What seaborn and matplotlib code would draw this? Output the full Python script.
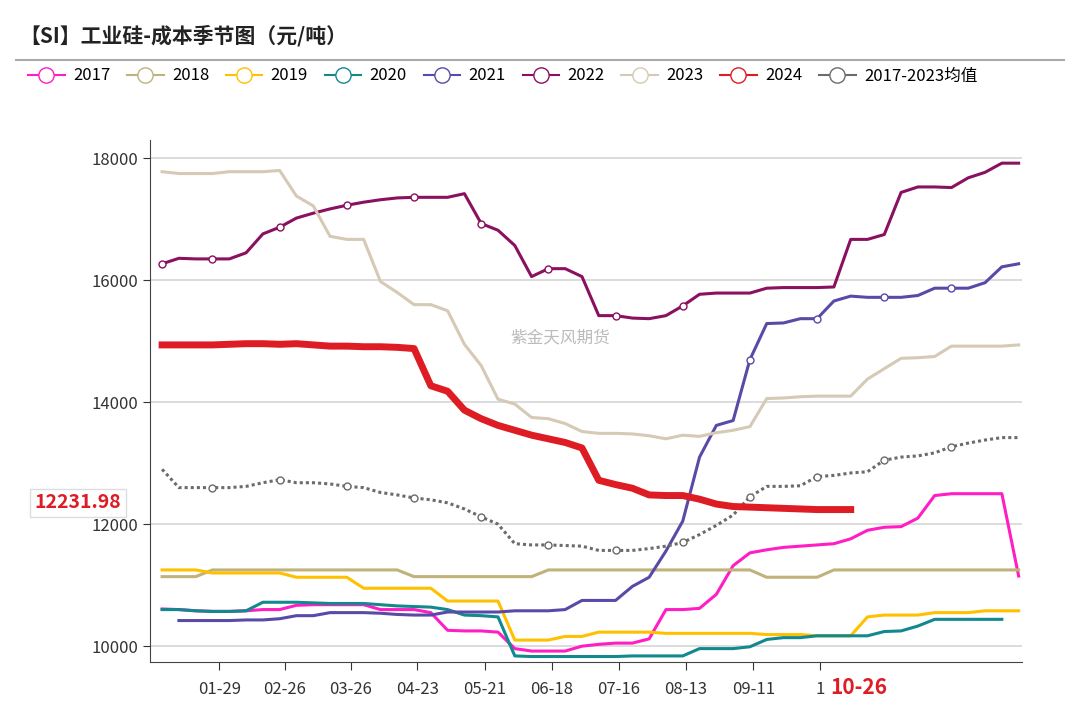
import numpy as np
import pandas as pd
import matplotlib
matplotlib.use("Agg")
import matplotlib.pyplot as plt
from matplotlib.lines import Line2D
import seaborn as sns

nan = np.nan
weeks = list(range(52))
s2017 = [10610,10600,10580,10570,10570,10580,10600,10600,10670,10680,10680,10680,10680,10600,10600,10600,10550,10260,10250,10250,10230,9960,9920,9920,9920,10000,10030,10050,10050,10120,10600,10600,10620,10850,11320,11530,11580,11620,11640,11660,11680,11760,11900,11950,11960,12100,12470,12500,12500,12500,12500,11150]
s2018 = [11140]*3 + [11250]*12 + [11140]*8 + [11250]*13 + [11130]*4 + [11250]*12
s2019 = [11250]*3 + [11200]*5 + [11130]*4 + [10950]*5 + [10740]*4 + [10100]*3 + [10160]*2 + [10230]*4 + [10210]*6 + [10190]*3 + [10170]*3 + [10480] + [10510]*3 + [10550]*3 + [10580]*3
s2020 = [10600,10600,10580,10570,10570,10580,10720,10720,10720,10710,10700,10700,10700,10680,10660,10650,10640,10600,10510,10500,10480,9840,9830,9830,9830,9830,9830,9830,9840,9840,9840,9840,9960,9960,9960,9990,10110,10140,10140,10170,10170,10170,10170,10240,10250,10330,10440,10440,10440,10440,10440,nan]
s2021 = [nan,10420,10420,10420,10420,10430,10430,10450,10500,10500,10550,10550,10550,10540,10520,10510,10510,10560,10560,10560,10560,10580,10580,10580,10600,10750,10750,10750,10980,11130,11560,12050,13100,13620,13700,14700,15290,15300,15370,15370,15660,15740,15720,15720,15720,15750,15870,15870,15870,15960,16220,16270]
s2022 = [16270,16360,16350,16350,16350,16450,16760,16870,17020,17100,17170,17230,17280,17320,17350,17360,17360,17360,17420,16930,16820,16570,16060,16190,16190,16060,15420,15420,15380,15370,15420,15580,15770,15790,15790,15790,15870,15880,15880,15880,15890,16670,16670,16750,17440,17530,17530,17520,17680,17770,17920,17920]
s2023 = [17780,17750,17750,17750,17780,17780,17780,17800,17380,17220,16720,16670,16670,15980,15800,15600,15600,15500,14950,14600,14050,13970,13750,13730,13650,13520,13490,13490,13480,13450,13400,13460,13440,13500,13540,13600,14060,14070,14090,14100,14100,14100,14380,14550,14720,14730,14750,14920,14920,14920,14920,14940]
s2024 = [14940,14940,14940,14940,14950,14960,14960,14950,14960,14940,14920,14920,14910,14910,14900,14880,14270,14180,13870,13730,13620,13540,13460,13400,13340,13250,12720,12650,12590,12480,12470,12470,12410,12330,12290,12280,12270,12260,12250,12240,12240,12240] + [nan]*10
savg = [12900,12600,12600,12600,12600,12620,12680,12730,12680,12680,12660,12620,12600,12520,12480,12430,12400,12350,12250,12120,12000,11680,11660,11660,11650,11640,11570,11570,11570,11600,11640,11700,11830,11980,12150,12450,12620,12620,12630,12780,12800,12840,12860,13050,13100,13120,13170,13270,13330,13380,13420,13420]
tick_pos = [3.4,7.3,11.25,15.2,19.2,23.2,27.2,31.2,35.2,39.2]
tick_labels = ["01-29","02-26","03-26","04-23","05-21","06-18","07-16","08-13","09-11","1"]
last_value = "12231.98"

series = [("2017",s2017,"#ff1dc4"),("2018",s2018,"#bfb27a"),("2019",s2019,"#ffc000"),
          ("2020",s2020,"#12888f"),("2021",s2021,"#5a4aa8"),("2022",s2022,"#8a1060"),
          ("2023",s2023,"#d6c9b5"),("2024",s2024,"#dd1c24"),("2017-2023均值",savg,"#6b6b6b")]

plt.rcParams["font.family"] = ["Noto Sans CJK SC", "DejaVu Sans"]
fig = plt.figure(figsize=(10.8, 7.01), dpi=100)
ax = fig.add_axes([0.1389, 0.0556, 0.8074, 0.7447])
mk = list(range(3, 48, 4))
for name, vals, col in series:
    df = pd.DataFrame({"w": weeks, "v": vals})
    if name == "2024":
        sns.lineplot(data=df, x="w", y="v", color=col, lw=5, ax=ax, zorder=5)
    elif name.startswith("2017-"):
        sns.lineplot(data=df, x="w", y="v", color=col, lw=2.2, ls=(0, (1, 1)), ax=ax, zorder=4)
        ax.plot(mk, [vals[i] for i in mk], ls="none", marker="o", ms=5, mfc="white", mec=col, zorder=6)
    else:
        sns.lineplot(data=df, x="w", y="v", color=col, lw=2.2, ax=ax)
        if name == "2022":
            idx = [0] + [i for i in mk if i <= 31]
            ax.plot(idx, [vals[i] for i in idx], ls="none", marker="o", ms=5, mfc="white", mec=col, zorder=6)
        if name == "2021":
            idx = [i for i in mk if i >= 35]
            ax.plot(idx, [vals[i] for i in idx], ls="none", marker="o", ms=5, mfc="white", mec=col, zorder=6)

ax.set_xlim(-0.72, 51.2)
ax.set_ylim(9740, 18300)
ax.set_yticks([10000, 12000, 14000, 16000, 18000])
ax.set_yticklabels(["10000","12000","14000","16000","18000"], fontsize=12, color="#333333")
ax.set_xticks(tick_pos)
ax.set_xticklabels(tick_labels, fontsize=12, color="#333333")
ax.tick_params(axis="x", length=6, pad=8, color="#333333")
ax.tick_params(axis="y", length=5, color="#333333")
ax.set_xlabel(""); ax.set_ylabel("")
ax.grid(axis="y", color="#d9d9d9", lw=1.3)
ax.set_axisbelow(True)
for s in ["top", "right"]:
    ax.spines[s].set_visible(False)
for s in ["left", "bottom"]:
    ax.spines[s].set_color("#444444")
ax.text(41.5, 9740, "10-26", color="#dd1c24", fontsize=15, fontweight="bold",
        ha="center", va="top", transform=ax.transData).set_y(9740 - 250)
ax.text(0.47, 0.62, "紫金天风期货", transform=ax.transAxes, fontsize=12, color="#bbbbbb", ha="center", va="center")

fig.text(0.128, 503/701, " ", fontsize=1)
fig.text(0.072, 1 - 503/701, last_value, color="#dd1c24", fontsize=14, fontweight="bold", ha="center", va="center",
         bbox=dict(boxstyle="square,pad=0.25", fc="white", ec="#dddddd"))
fig.text(0.018, 1 - 36/701, "【SI】工业硅-成本季节图（元/吨）", fontsize=15, fontweight="bold", color="#222222", va="center")
fig.add_artist(Line2D([0.015, 0.985], [1 - 60/701, 1 - 60/701], color="#aaaaaa", lw=1.5))
handles = [Line2D([0], [0], color=c, lw=1.5, marker="o", ms=11, mfc="white", mec=c) for _, _, c in series]
fig.legend(handles, [n for n, _, _ in series], loc="center left", bbox_to_anchor=(0.012, 1 - 76/701),
           ncol=9, frameon=False, fontsize=12, handlelength=2.2, columnspacing=1.0, handletextpad=0.5)
fig.savefig("out.png", dpi=100)
